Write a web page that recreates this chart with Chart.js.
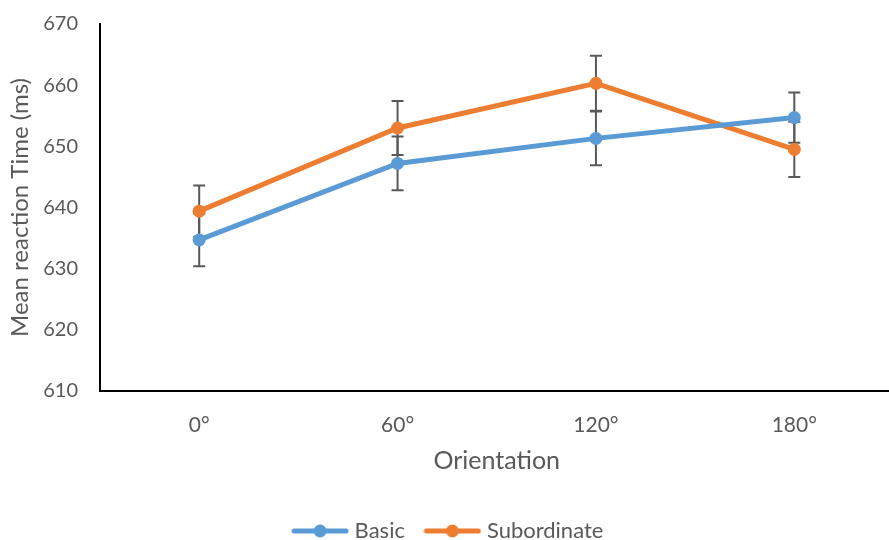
<!DOCTYPE html>
<html><head><meta charset="utf-8">
<script src="https://cdn.jsdelivr.net/npm/chart.js@4"></script>
<style>html,body{margin:0;padding:0;overflow:hidden;background:#fff}#wrap{width:900px;height:540px}</style>
</head><body><div id="wrap"><canvas id="c" width="900" height="540"></canvas></div>
<script>
const categories = ['0°', '60°', '120°', '180°'];
const basicMeans = [634.7, 647.2, 651.3, 654.7];
const basicErrors = [4.3, 4.4, 4.4, 4.1];
const subordinateMeans = [639.4, 653.0, 660.3, 649.5];
const subordinateErrors = [4.2, 4.4, 4.5, 4.5];
const yMin = 610, yMax = 670, yStep = 10;

const BLUE = '#5B9BD5', ORANGE = '#ED7D31', GREY = '#595959';
const FONT = 'Lato, Carlito, "Open Sans", sans-serif';

function legendIcon(color) {
  const c = document.createElement('canvas');
  c.width = 58; c.height = 16;
  const g = c.getContext('2d');
  g.strokeStyle = color; g.lineWidth = 5; g.lineCap = 'round';
  g.beginPath(); g.moveTo(3, 8); g.lineTo(55, 8); g.stroke();
  g.fillStyle = color; g.beginPath(); g.arc(29, 8, 6.5, 0, Math.PI * 2); g.fill();
  return c;
}

const errorBars = {
  id: 'errorBars',
  beforeDatasetsDraw(chart) {
    const ctx = chart.ctx, y = chart.scales.y;
    chart.data.datasets.forEach((ds, i) => {
      const meta = chart.getDatasetMeta(i);
      meta.data.forEach((pt, j) => {
        const v = ds.data[j], e = ds.errors[j];
        const t = y.getPixelForValue(v + e), b = y.getPixelForValue(v - e);
        ctx.save();
        ctx.strokeStyle = GREY; ctx.lineWidth = 2;
        ctx.beginPath();
        ctx.moveTo(pt.x, t); ctx.lineTo(pt.x, b);
        ctx.moveTo(pt.x - 6, t); ctx.lineTo(pt.x + 6, t);
        ctx.moveTo(pt.x - 6, b); ctx.lineTo(pt.x + 6, b);
        ctx.stroke();
        ctx.restore();
      });
    });
  }
};

new Chart(document.getElementById('c'), {
  type: 'line',
  data: {
    labels: categories,
    datasets: [
      { label: 'Basic', data: basicMeans, errors: basicErrors, borderColor: BLUE, backgroundColor: BLUE,
        borderWidth: 5, pointRadius: 6.5, pointHoverRadius: 6.5, pointBackgroundColor: BLUE, pointBorderWidth: 0,
        pointStyle: 'circle', tension: 0 },
      { label: 'Subordinate', data: subordinateMeans, errors: subordinateErrors, borderColor: ORANGE, backgroundColor: ORANGE,
        borderWidth: 5, pointRadius: 6.5, pointHoverRadius: 6.5, pointBackgroundColor: ORANGE, pointBorderWidth: 0,
        pointStyle: 'circle', tension: 0 }
    ]
  },
  options: {
    responsive: false,
    animation: false,
    layout: { padding: { top: 24, left: 0, right: 0, bottom: -12 } },
    plugins: {
      tooltip: { enabled: false },
      legend: {
        position: 'bottom',
        labels: {
          usePointStyle: true,
          pointStyleWidth: 47,
          boxHeight: 16,
          color: GREY,
          font: { family: FONT, size: 22 },
          padding: 24,
          generateLabels(chart) {
            return chart.data.datasets.map((ds, i) => ({
              text: ds.label, fillStyle: ds.borderColor, strokeStyle: ds.borderColor,
              pointStyle: legendIcon(ds.borderColor), lineWidth: 0, datasetIndex: i, fontColor: GREY
            }));
          }
        }
      }
    },
    scales: {
      x: {
        type: 'category',
        offset: true,
        grid: { display: false, drawTicks: false },
        border: { display: true, color: '#000', width: 2 },
        ticks: { color: GREY, font: { family: FONT, size: 21 }, padding: 22 },
        title: { display: true, text: 'Orientation', color: GREY, font: { family: FONT, size: 25 }, padding: { top: 0, bottom: 20 } },
        afterFit(s) { s.height = 105; s.paddingLeft = 0; s.paddingRight = 0; }
      },
      y: {
        min: yMin, max: yMax,
        grid: { display: false, drawTicks: false },
        border: { display: true, color: '#000', width: 2 },
        ticks: { stepSize: yStep, color: GREY, font: { family: FONT, size: 20 }, padding: 22 },
        title: { display: true, text: 'Mean reaction Time (ms)', color: GREY, font: { family: FONT, size: 24 }, padding: { top: 6, bottom: 0 } },
        afterFit(s) { s.width = 100; s.paddingTop = 0; s.paddingBottom = 0; }
      }
    }
  },
  plugins: [errorBars]
});
</script>
</body></html>
